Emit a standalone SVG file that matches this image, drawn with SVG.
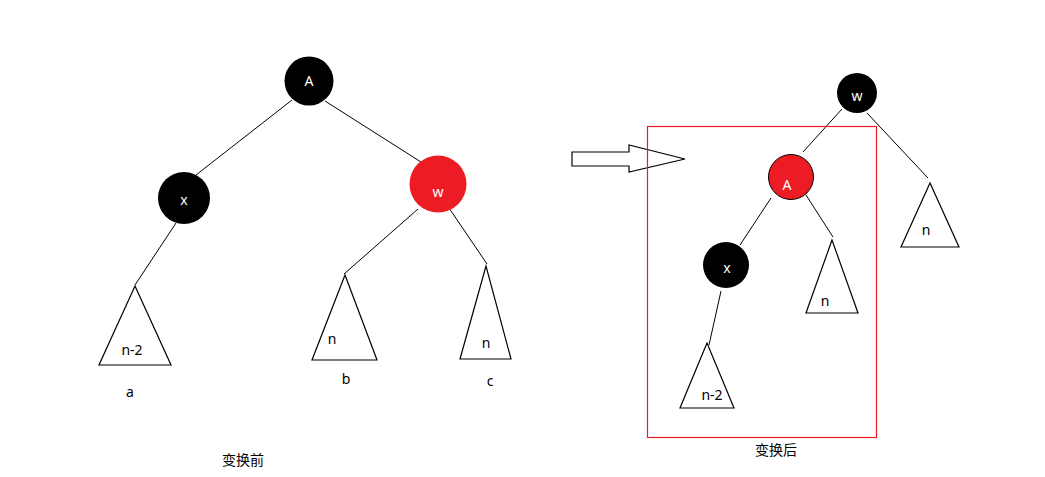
<svg xmlns="http://www.w3.org/2000/svg" width="1045" height="477" viewBox="0 0 1045 477">
<style>
.e{stroke:#000;stroke-width:1;fill:none}
.t{fill:#fff;stroke:#000;stroke-width:1.2}
.blk{fill:#000}
.red{fill:#ed1c24}
.lw{font-family:"Noto Sans","Liberation Sans",sans-serif;font-size:14px;fill:#fff;text-anchor:middle}
.lb{font-family:"Noto Sans","Liberation Sans","Noto Sans CJK SC",sans-serif;font-size:14px;fill:#000;text-anchor:middle}
</style>
<rect width="1045" height="477" fill="#fff"/>
<g id="connectors">
<line class="e" x1="292" y1="100" x2="196" y2="175"/>
<line class="e" x1="325" y1="101" x2="421" y2="162"/>
<line class="e" x1="176" y1="223" x2="135" y2="285"/>
<line class="e" x1="418" y1="209" x2="344" y2="274"/>
<line class="e" x1="447" y1="205" x2="487" y2="264"/>
<line class="e" x1="842" y1="109" x2="803" y2="152"/>
<line class="e" x1="867" y1="113" x2="928" y2="178"/>
<line class="e" x1="771" y1="198" x2="740" y2="245"/>
<line class="e" x1="806" y1="195" x2="833" y2="237"/>
<line class="e" x1="721" y1="291" x2="709" y2="345"/>
</g>
<g id="arrow">
<polygon points="572,152 629,152 629,145 685,159 629,172 629,166 572,166" fill="#fff" stroke="#000" stroke-width="1.2"/>
</g>
<g id="frame">
<rect x="647.5" y="126.5" width="229" height="311" fill="none" stroke="#ed1c24" stroke-width="1.2"/>
</g>
<g id="L_A"><circle class="blk" cx="309" cy="81" r="24.5"/><text class="lw" x="309" y="86">A</text></g>
<g id="L_x"><circle class="blk" cx="184" cy="198" r="26"/><text class="lw" x="184" y="205">x</text></g>
<g id="L_w"><circle class="red" cx="438" cy="184" r="28.5"/><text class="lw" x="438" y="197">w</text></g>
<g id="L_a"><polygon class="t" points="135,286 99,365 171,365"/><text class="lb" x="132" y="355">n-2</text><text class="lb" x="130" y="397">a</text></g>
<g id="L_b"><polygon class="t" points="345,275 312,360 377,360"/><text class="lb" x="332" y="344">n</text><text class="lb" x="346" y="384">b</text></g>
<g id="L_c"><polygon class="t" points="486,266 460,359 511,359"/><text class="lb" x="486" y="348">n</text><text class="lb" x="490" y="386">c</text></g>
<g id="R_w"><circle class="blk" cx="857" cy="93" r="20"/><text class="lw" x="857" y="101">w</text></g>
<g id="R_A"><circle class="red" cx="791" cy="177" r="22.5" stroke="#000" stroke-width="1"/><text class="lw" x="787" y="190">A</text></g>
<g id="R_x"><circle class="blk" cx="726" cy="265" r="23"/><text class="lw" x="727" y="273">x</text></g>
<g id="R_n1"><polygon class="t" points="930,183 901,247 959,247"/><text class="lb" x="926" y="235">n</text></g>
<g id="R_n2"><polygon class="t" points="832,240 806,313 858,313"/><text class="lb" x="825" y="306">n</text></g>
<g id="R_n3"><polygon class="t" points="707,343 680,408 734,408"/><text class="lb" x="712" y="400">n-2</text></g>
<g id="captions">
<text class="lb" x="243" y="465">变换前</text>
<text class="lb" x="776" y="455">变换后</text>
</g>
</svg>
